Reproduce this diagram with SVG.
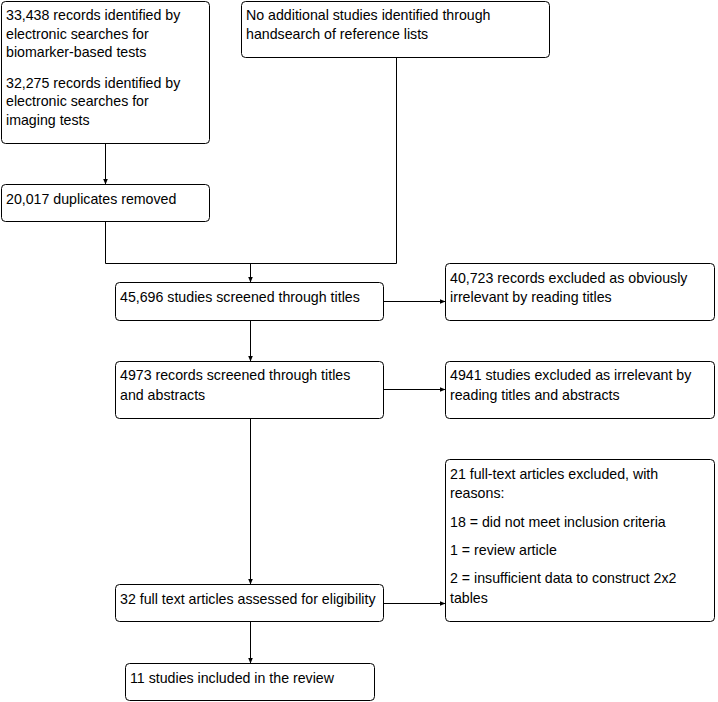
<svg xmlns="http://www.w3.org/2000/svg" width="718" height="702" viewBox="0 0 718 702">
<style>
.box{fill:#fff;stroke:#000;stroke-width:1}
.t{font-family:"Liberation Sans",Arial,sans-serif;font-size:14.2px;fill:#000}
.c{fill:none;stroke:#000;stroke-width:1}
</style>
<defs>
<marker id="ah" markerWidth="7" markerHeight="6" refX="6" refY="3" orient="auto" markerUnits="userSpaceOnUse">
<path d="M0,0.5 L6,3 L0,5.5 z" fill="#000"/>
</marker>
</defs>
<rect width="718" height="702" fill="#fff"/>
<g id="connectors">
<path class="c" d="M105.5 143.5 V184.5" marker-end="url(#ah)"/>
<path class="c" d="M105.5 221.5 V263.5 H396.5 V57.5"/>
<path class="c" d="M250.5 263.5 V282.5" marker-end="url(#ah)"/>
<path class="c" d="M250.5 320.5 V361.5" marker-end="url(#ah)"/>
<path class="c" d="M250.5 418.5 V584.5" marker-end="url(#ah)"/>
<path class="c" d="M250.5 621.5 V663.5" marker-end="url(#ah)"/>
<path class="c" d="M383.5 301.5 H445.5" marker-end="url(#ah)"/>
<path class="c" d="M383.5 389.5 H445.5" marker-end="url(#ah)"/>
<path class="c" d="M383.5 603.5 H445.5" marker-end="url(#ah)"/>
</g>
<g id="n1">
<rect class="box" x="1.5" y="1.5" width="208" height="142" rx="4"/>
<text class="t" x="6" y="20">33,438 records identified by</text>
<text class="t" x="6" y="38.5">electronic searches for</text>
<text class="t" x="6" y="57">biomarker-based tests</text>
<text class="t" x="6" y="87.5">32,275 records identified by</text>
<text class="t" x="6" y="106">electronic searches for</text>
<text class="t" x="6" y="124.5">imaging tests</text>
</g>
<g id="n2">
<rect class="box" x="241.5" y="1.5" width="308" height="56" rx="4"/>
<text class="t" x="246" y="20">No additional studies identified through</text>
<text class="t" x="246" y="39">handsearch of reference lists</text>
</g>
<g id="n3">
<rect class="box" x="1.5" y="184.5" width="208" height="37" rx="4"/>
<text class="t" x="6" y="204">20,017 duplicates removed</text>
</g>
<g id="n4">
<rect class="box" x="115.5" y="282.5" width="268" height="38" rx="4"/>
<text class="t" x="120" y="302">45,696 studies screened through titles</text>
</g>
<g id="n5">
<rect class="box" x="115.5" y="361.5" width="268" height="57" rx="4"/>
<text class="t" x="120" y="380">4973 records screened through titles</text>
<text class="t" x="120" y="399.5">and abstracts</text>
</g>
<g id="n6">
<rect class="box" x="445.5" y="263.5" width="269" height="57" rx="4"/>
<text class="t" x="450" y="283">40,723 records excluded as obviously</text>
<text class="t" x="450" y="302">irrelevant by reading titles</text>
</g>
<g id="n7">
<rect class="box" x="445.5" y="361.5" width="269" height="57" rx="4"/>
<text class="t" x="450" y="380">4941 studies excluded as irrelevant by</text>
<text class="t" x="450" y="399.5">reading titles and abstracts</text>
</g>
<g id="n8">
<rect class="box" x="445.5" y="459.5" width="269" height="162" rx="4"/>
<text class="t" x="450" y="479">21 full-text articles excluded, with</text>
<text class="t" x="450" y="497.5">reasons:</text>
<text class="t" x="450" y="527">18 = did not meet inclusion criteria</text>
<text class="t" x="450" y="555">1 = review article</text>
<text class="t" x="450" y="583">2 = insufficient data to construct 2x2</text>
<text class="t" x="450" y="603">tables</text>
</g>
<g id="n9">
<rect class="box" x="115.5" y="584.5" width="268" height="37" rx="4"/>
<text class="t" x="120" y="604">32 full text articles assessed for eligibility</text>
</g>
<g id="n10">
<rect class="box" x="125.5" y="663.5" width="249" height="37" rx="4"/>
<text class="t" x="130" y="683">11 studies included in the review</text>
</g>
</svg>
